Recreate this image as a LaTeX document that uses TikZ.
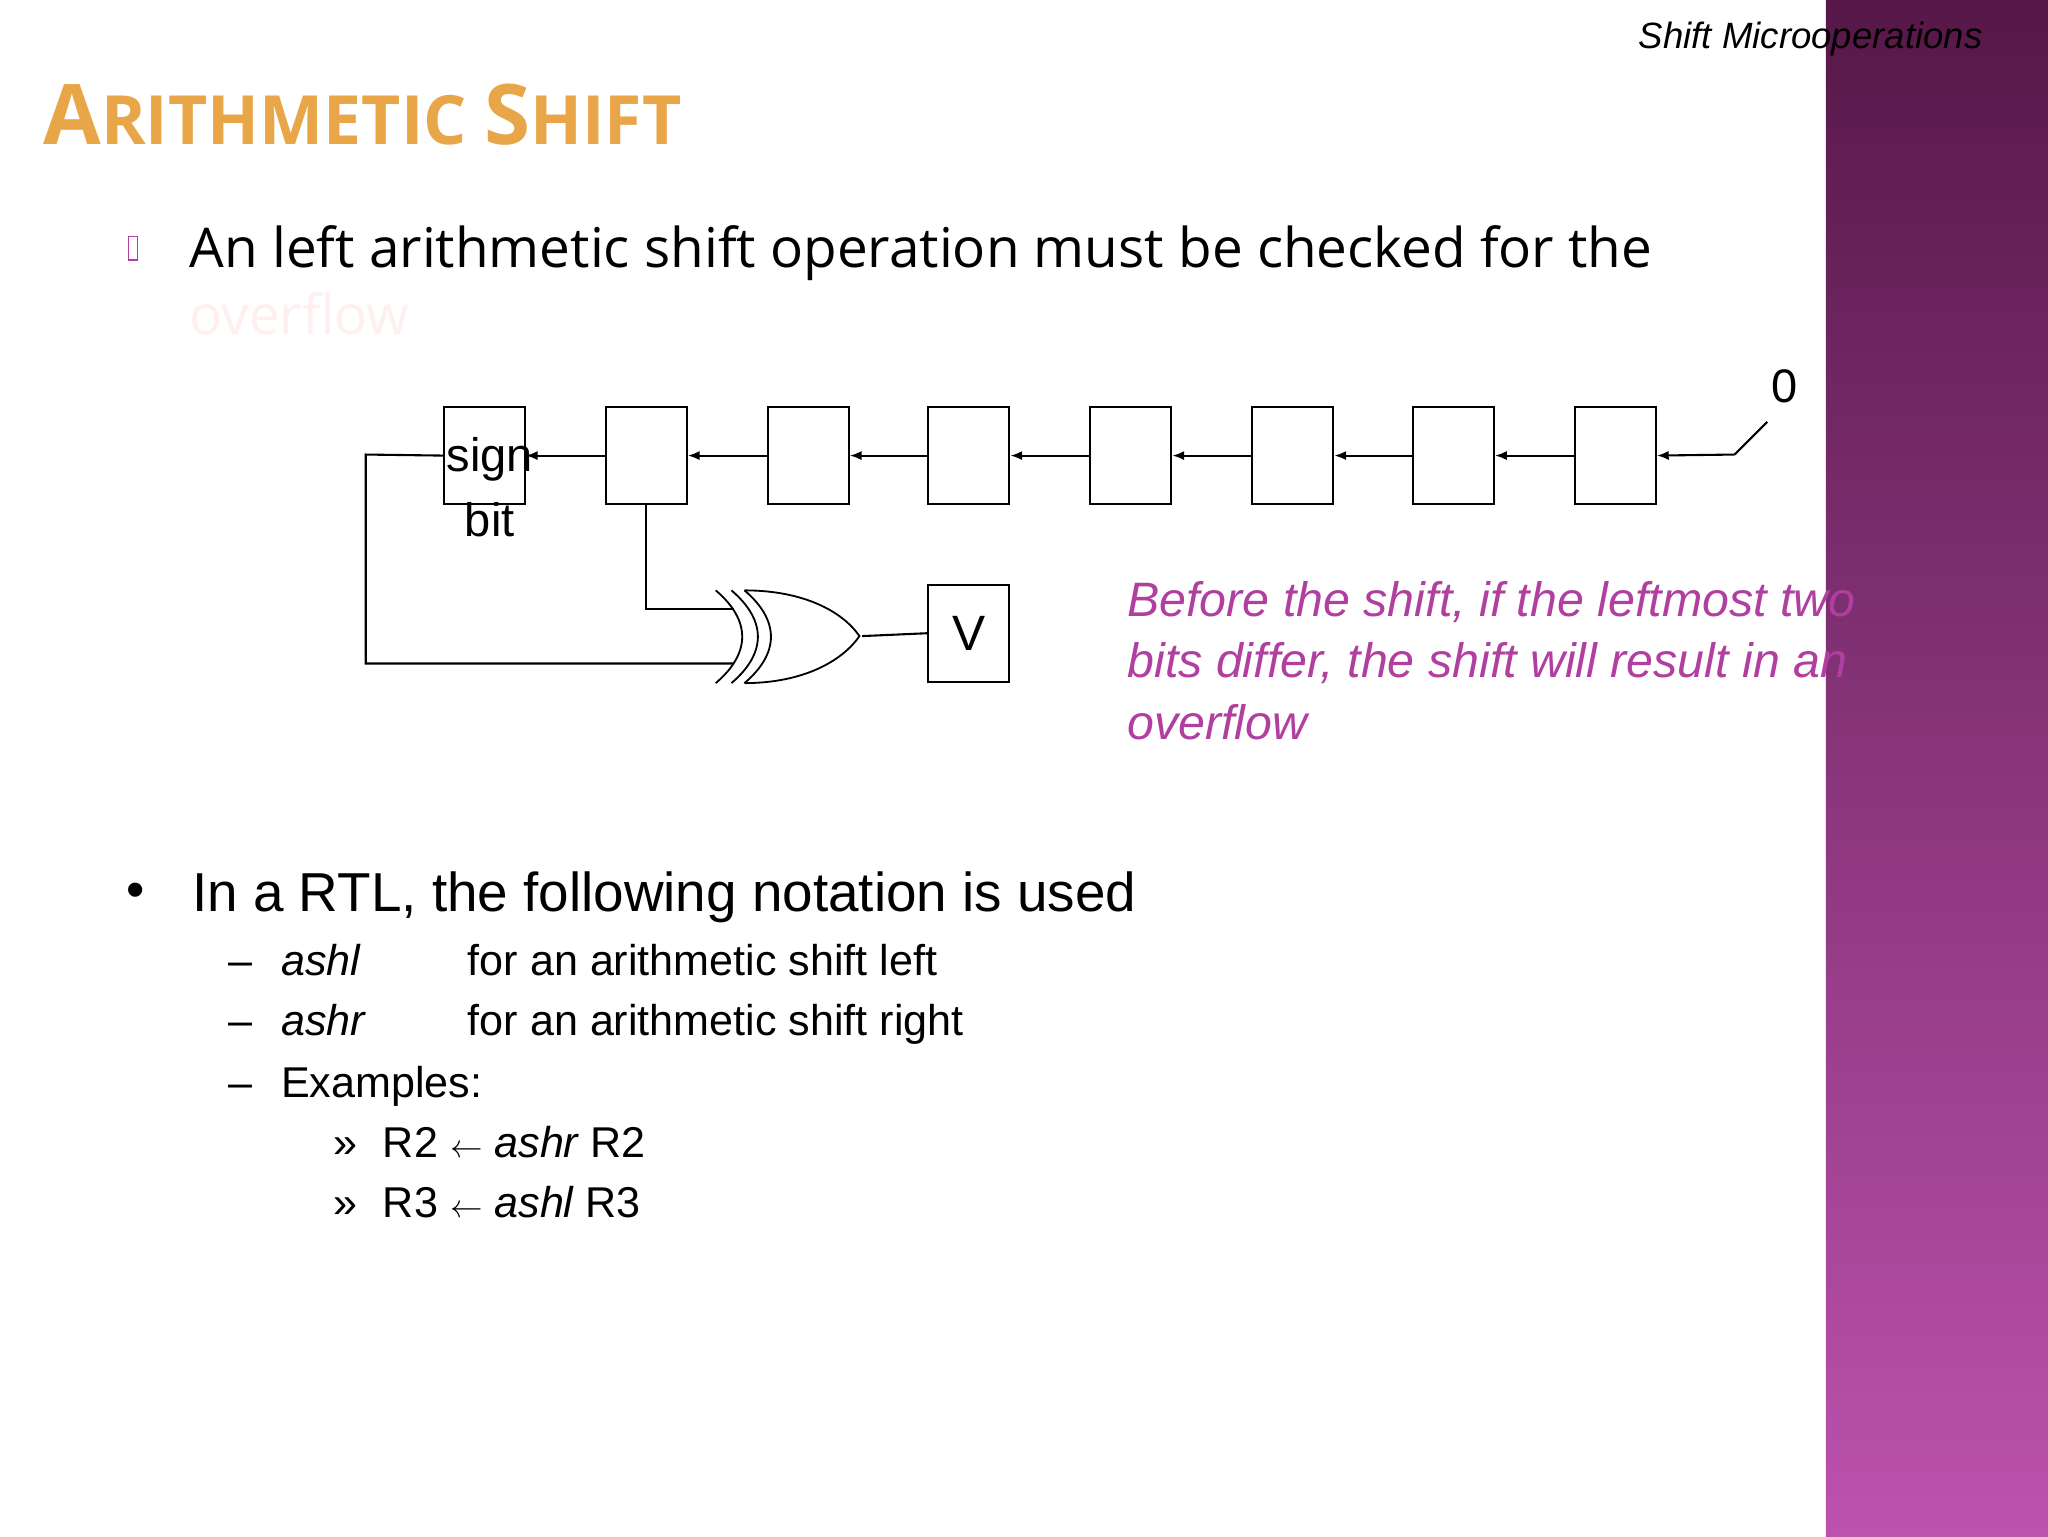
\documentclass[tikz,border=0pt]{standalone}
\usepackage{fontspec}
\setmainfont{Liberation Sans}
\newfontfamily\osans{Open Sans}
\usetikzlibrary{arrows.meta}
\definecolor{pinktxt}{HTML}{B03FA0}
\definecolor{bandtop}{HTML}{561848}
\definecolor{bandbot}{HTML}{BC52AE}
\definecolor{ttl}{HTML}{E9A648}
\newcommand{\fs}[1]{\fontsize{#1}{#1}\selectfont}
\tikzset{reg/.style={draw,line width=1.6pt,minimum width=62pt,minimum height=74pt,inner sep=0pt},
 wire/.style={line width=1.6pt},
 arr/.style={wire,-{Latex[length=9pt,width=7pt]}},
 lbl/.style={anchor=base west,inner sep=0pt}}
\begin{document}
\begin{tikzpicture}[x=1pt,y=-1pt]
\useasboundingbox (0,0) rectangle (1568,1176);
\fill[white] (0,0) rectangle (1568,1176);
\shade[top color=bandtop,bottom color=bandbot] (1398,0) rectangle (1568,1176);
\node[anchor=base east,inner sep=0pt] (hdr) at (1518,37) {\fs{28}\itshape Shift Microoperations};
\node[lbl,text=ttl,draw=none] (title) at (33,111) {\osans\fs{64}\bfseries A\fs{52}RITHMETIC \fs{64}S\fs{52}HIFT};
\node[draw=pinktxt,line width=1pt,minimum width=7pt,minimum height=18pt,inner sep=0pt] (b0) at (102,190) {};
\node[lbl] (l1) at (145,205) {\osans\fs{42}An left arithmetic shift operation must be checked for the};
\node[lbl,text=pink!25] (l2) at (145,256) {\osans\fs{42}overflow};
% registers
\foreach \i/\x in {1/339,2/463,3/587,4/710,5/834,6/958,7/1081,8/1205}
  \node[reg,anchor=north west] (r\i) at (\x,311) {};
\foreach \a/\b in {2/1,3/2,4/3,5/4,6/5,7/6,8/7}
  \draw[arr] (r\a.west) -- (r\b.east);
\coordinate (in) at (1328,348);
\coordinate (sw) at (1353,323);
\draw[wire] (sw) -- (in);
\draw[arr] (in) -- (r8.east);
\node (zero) at (1366,296) {\fs{36}0};
\node (sg) at (375,352) {\fs{36}sign};
\node (bt) at (375,398) {\fs{36}bit};
% loop
\coordinate (c1) at (280,348);
\coordinate (c2) at (280,508);
\coordinate (g1) at (562,508);
\coordinate (g2) at (562,466);
\draw[wire] (r1.west) -- (c1) -- (c2) -- (g1);
\draw[wire] (r2.south) |- (g2);
% xor gate
\draw[line width=1.4pt] (548,452) .. controls (575,475) and (575,500) .. (548,523);
\draw[line width=1.4pt] (560,452) .. controls (587,475) and (587,500) .. (560,523);
\draw[line width=1.4pt] (570,452) .. controls (597,475) and (597,500) .. (570,523);
\draw[line width=1.4pt] (570,452) .. controls (615,452) and (645,468) .. (658,487)
      .. controls (645,506) and (615,523) .. (570,523);
\node[reg,anchor=north west] (v) at (710,447) {\fs{38}V};
\coordinate (go) at (660,487);
\draw[wire] (go) -- (v.west);
\node[lbl,text=pinktxt] (p1) at (863,472) {\fs{37}\itshape Before the shift, if the leftmost two};
\node[lbl,text=pinktxt] (p2) at (863,519) {\fs{37}\itshape bits differ, the shift will result in an};
\node[lbl,text=pinktxt] (p3) at (863,566) {\fs{37}\itshape overflow};
% RTL
\node[lbl] (bl) at (97,695) {\fs{40}•};
\node[lbl] (m1) at (147,698) {\fs{42}In a RTL, the following notation is used};
\foreach \y/\a/\b in {747/{\itshape ashl}/for an arithmetic shift left,793/{\itshape ashr}/for an arithmetic shift right}{
  \node[lbl] at (175,\y) {\fs{33}–};
  \node[lbl] at (215,\y) {\fs{33}\a};
  \node[lbl] at (358,\y) {\fs{33}\b};}
\node[lbl] (d3) at (175,840) {\fs{33}–};
\node[lbl] (ex) at (215,840) {\fs{33}Examples:};
\node[lbl] (q1) at (255,886) {\fs{33}»};
\node[lbl] (e1) at (293,886) {\fs{33}R2 $\leftarrow$ {\itshape ashr} R2};
\node[lbl] (q2) at (255,932) {\fs{33}»};
\node[lbl] (e2) at (293,932) {\fs{33}R3 $\leftarrow$ {\itshape ashl} R3};
\end{tikzpicture}
\end{document}
